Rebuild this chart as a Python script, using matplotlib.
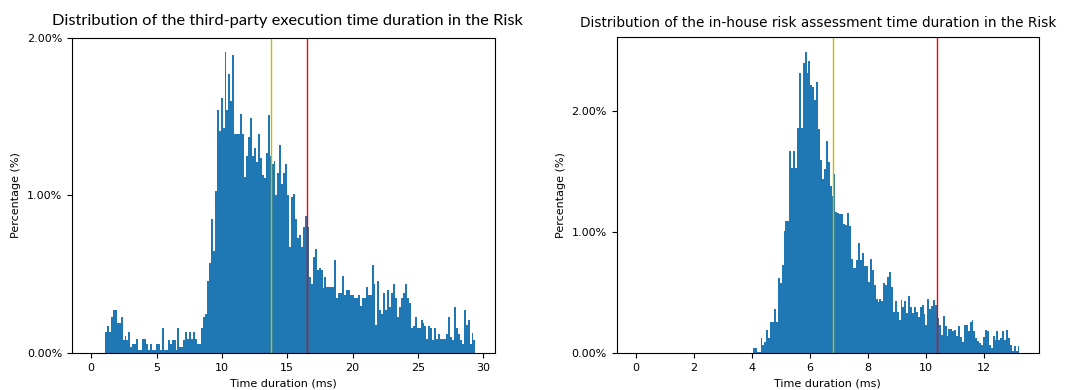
import numpy as np
import matplotlib
matplotlib.use("Agg")
from matplotlib import pyplot as plt
from matplotlib.ticker import PercentFormatter, MultipleLocator

# third-party execution time, bins of 0.15 ms starting at 0 (percent per bin)
third_party_max = 29.4
third_party_pct = [
    0, 0, 0, 0, 0, 0, 0, 0.135, 0.17, 0.135,
    0.23, 0.27, 0.27, 0.19, 0.19, 0.23, 0.08, 0.11, 0.08, 0.135,
    0.04, 0.06, 0.06, 0.09, 0.02, 0.02, 0.09, 0.09, 0.06, 0.02,
    0.06, 0.02, 0.02, 0.06, 0.06, 0.02, 0.156, 0.02, 0.02, 0.08,
    0.06, 0.08, 0.08, 0.02, 0.156, 0.04, 0.04, 0.08, 0.135, 0.09,
    0.135, 0.09, 0.135, 0.09, 0.06, 0.06, 0.156, 0.23, 0.25, 0.46,
    0.57, 0.85, 0.65, 1.03, 1.54, 1.41, 1.62, 1.43, 1.91, 1.54,
    1.77, 1.60, 1.89, 1.39, 1.39, 1.39, 1.52, 1.39, 1.12, 1.25,
    1.37, 1.49, 1.25, 1.30, 1.21, 1.39, 1.24, 1.13, 1.11, 1.27,
    1.51, 1.25, 1.20, 1.22, 1.00, 1.14, 1.32, 1.07, 1.14, 1.20,
    1.00, 0.67, 0.99, 1.01, 0.85, 0.73, 0.75, 0.67, 0.80, 0.87,
    0.80, 0.48, 0.44, 0.61, 0.66, 0.53, 0.54, 0.53, 0.41, 0.48,
    0.42, 0.42, 0.42, 0.42, 0.59, 0.35, 0.38, 0.38, 0.49, 0.37,
    0.40, 0.40, 0.37, 0.37, 0.35, 0.35, 0.37, 0.30, 0.35, 0.35,
    0.42, 0.37, 0.37, 0.56, 0.44, 0.18, 0.46, 0.27, 0.25, 0.38,
    0.27, 0.40, 0.29, 0.38, 0.44, 0.35, 0.23, 0.29, 0.35, 0.38,
    0.44, 0.35, 0.32, 0.16, 0.17, 0.23, 0.16, 0.16, 0.21, 0.19,
    0.17, 0.09, 0.17, 0.16, 0.08, 0.16, 0.09, 0.12, 0.09, 0.09,
    0.09, 0.12, 0.23, 0.10, 0.08, 0.29, 0.16, 0.12, 0.08, 0.06,
    0.27, 0.18, 0.21, 0.06, 0.13, 0.08,
]
third_party_lines = [13.76, 16.49]   # yellow, red

# in-house risk assessment time, 200 bins from 0 to 13.22 ms
in_house_max = 13.22
in_house_pct = [0] * 61 + [
    0.04, 0.04, 0.01, 0.01, 0.12, 0.07, 0.09, 0.19, 0.12,
    0.26, 0.26, 0.36, 0.26, 0.62, 0.58, 0.73, 1.01, 1.09, 1.09,
    1.67, 1.53, 1.67, 1.53, 1.86, 2.32, 1.86, 2.40, 2.49, 2.32,
    2.42, 2.22, 2.20, 2.09, 2.24, 1.85, 1.60, 1.44, 1.52, 1.75,
    1.58, 1.38, 1.30, 1.48, 1.17, 1.16, 1.15, 1.15, 1.07, 1.06,
    1.16, 1.05, 0.78, 0.70, 0.70, 0.77, 0.91, 0.77, 0.83, 0.72,
    0.72, 0.59, 0.78, 0.69, 0.56, 0.45, 0.42, 0.45, 0.43, 0.58,
    0.56, 0.63, 0.67, 0.55, 0.34, 0.43, 0.34, 0.27, 0.44, 0.38,
    0.43, 0.33, 0.47, 0.38, 0.33, 0.38, 0.34, 0.30, 0.38, 0.40,
    0.32, 0.23, 0.45, 0.36, 0.39, 0.44, 0.40, 0.29, 0.23, 0.15,
    0.31, 0.22, 0.14, 0.20, 0.20, 0.18, 0.19, 0.14, 0.22, 0.13,
    0.09, 0.23, 0.23, 0.18, 0.26, 0.27, 0.18, 0.12, 0.10, 0.08,
    0.07, 0.13, 0.19, 0.18, 0.07, 0.04, 0.14, 0.11, 0.18, 0.11,
    0.12, 0.18, 0.11, 0.19, 0.12, 0.07, 0.02, 0.06, 0.02, 0.06,
]
in_house_lines = [6.80, 10.38]

fig = plt.figure(figsize=(10.81, 3.9), dpi=100)
ax1 = fig.add_axes([0.0666, 0.0949, 0.3910, 0.8077])
ax2 = fig.add_axes([0.5705, 0.0949, 0.3903, 0.8102])


def draw_hist(ax, pct, xmax, lines):
    edges = np.linspace(0, xmax, len(pct) + 1)
    ax.bar(edges[:-1], pct, width=edges[1] - edges[0], align='edge',
           color='#1f77b4', linewidth=0)
    ax.axvline(lines[0], color='y', linewidth=1)
    ax.axvline(lines[1], color='r', linewidth=1)
    ax.yaxis.set_major_formatter(PercentFormatter(100, decimals=2))
    ax.yaxis.set_major_locator(MultipleLocator(1.0))
    ax.set_xlabel("Time duration (ms)", fontsize=8)
    ax.set_ylabel("Percentage (%)", fontsize=8)
    ax.tick_params(labelsize=8)


draw_hist(ax1, third_party_pct, third_party_max, third_party_lines)
ax1.set_ylim(0, 2.0)
ax1.set_title("Distribution of the third-party execution time duration in the Risk",
              fontsize=11.8, family='Lato', x=0.509, pad=9)

draw_hist(ax2, in_house_pct, in_house_max, in_house_lines)
ax2.set_title("Distribution of the in-house risk assessment time duration in the Risk",
              fontsize=9.8, x=0.478, pad=7)

fig.savefig("out.png", dpi=100)
